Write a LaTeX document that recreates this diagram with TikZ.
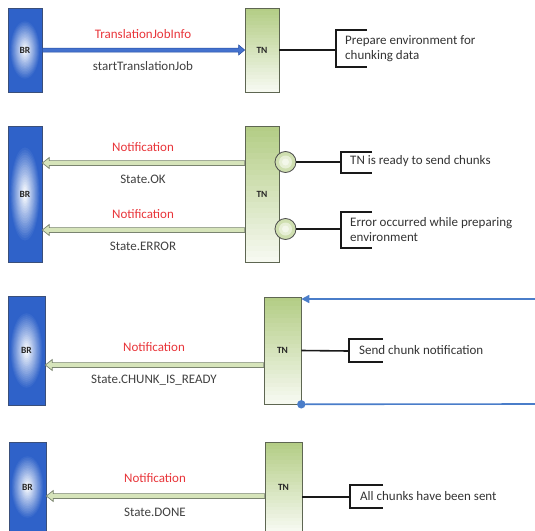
\documentclass[tikz,border=0pt]{standalone}
\usepackage{fontspec}
\setmainfont{Carlito}
\usetikzlibrary{calc,arrows.meta}
\definecolor{brblue}{HTML}{2F62C9}
\definecolor{brline}{HTML}{3A4F7A}
\definecolor{tngreen}{HTML}{B4CD86}
\definecolor{tnline}{HTML}{5E6652}
\definecolor{gfill}{HTML}{D6E4BA}
\definecolor{gline}{HTML}{7A8470}
\definecolor{lblred}{HTML}{E8353A}
\definecolor{lblgray}{HTML}{404040}
\definecolor{lineblue}{HTML}{4A7DC9}
% gradient helpers: centre x, centre y, width, height
\newcommand\brgrad[4]{%
  \fill[brblue] ({#1-#3/2},{#2-#4/2}) rectangle ({#1+#3/2},{#2+#4/2});
  \foreach \i [evaluate=\i as \pc using {int(\i*100/19)}] in {0,...,19}{
    \fill[white!\pc!brblue] (#1,#2) ellipse [x radius={0.9*#3/2*(1-\i/20)}, y radius={0.72*#4/2*(1-\i/20)}];
  }}
\newcommand\tngrad[4]{%
  \foreach \i [evaluate=\i as \pc using {int(\i*88/24)}] in {0,...,24}{
    \fill[white!\pc!tngreen] ({#1-#3/2},{#2-#4/2+#4*\i/25}) rectangle ({#1+#3/2},{#2-#4/2+#4*(\i+1)/25+0.6});
  }}
\begin{document}
\begin{tikzpicture}[x=1pt,y=-1pt,
  brbox/.style={draw=brline, line width=0.6pt, inner sep=0pt,
    font=\fontsize{9.5}{10}\selectfont\bfseries, text=black!85},
  tnbox/.style={draw=tnline, line width=0.6pt, inner sep=0pt,
    font=\fontsize{9.5}{10}\selectfont\bfseries, text=black!85},
  redlbl/.style={text=lblred, font=\fontsize{13}{15}\selectfont, inner sep=0pt},
  graylbl/.style={text=lblgray, font=\fontsize{13}{15}\selectfont, inner sep=0pt},
  note/.style={text=black!80, font=\fontsize{13}{15}\selectfont, anchor=west, inner sep=0pt, align=left},
  link/.style={draw=black!90, line width=1.6pt},
  brack/.style={draw=black!90, line width=1.6pt, line cap=butt},
  knob/.style={circle, draw=black!70, line width=0.8pt, fill=gfill!80!tngreen, minimum size=21pt, inner sep=0pt},
  garrow/.style={draw=gline, fill=gfill, line width=0.7pt,
    to path={let \p1=(\tikztostart), \p2=(\tikztotarget) in
      (\x1,\y1+2.4pt) -- (\x2+7pt,\y1+2.4pt) -- (\x2+7pt,\y1+5.5pt) -- (\x2,\y1) -- (\x2+7pt,\y1-5.5pt) -- (\x2+7pt,\y1-2.4pt) -- (\x1,\y1-2.4pt) -- cycle}},
  barrow/.style={draw=brblue!80!black, fill=brblue!90!white, line width=0.5pt,
    to path={let \p1=(\tikztostart), \p2=(\tikztotarget) in
      (\x1,\y1+2pt) -- (\x2-6pt,\y1+2pt) -- (\x2-6pt,\y1+5pt) -- (\x2,\y1) -- (\x2-6pt,\y1-5pt) -- (\x2-6pt,\y1-2pt) -- (\x1,\y1-2pt) -- cycle}},
  bline/.style={draw=lineblue, line width=1.6pt},
]
\clip (0,0) rectangle (535,530);

% ---------- section 1 ----------
\brgrad{25}{50}{34}{84}
\tngrad{262}{50}{34}{84}
\node[brbox, minimum width=34pt, minimum height=84pt] (BR1) at (25,50) {BR};
\node[tnbox, minimum width=34pt, minimum height=84pt] (TN1) at (262,50) {TN};
\path[barrow] (BR1.east) to (TN1.west);
\node[redlbl] (l1a) at (143,34) {TranslationJobInfo};
\node[graylbl] (l1b) at (143,66) {startTranslationJob};
\coordinate (k1) at (336,50);
\draw[link] (TN1.east) -- (k1);
\draw[brack] (367,30) -- (336,30) -- (336,67) -- (367,67);
\node[note] (n1) at (345,48.5) {Prepare environment for\\chunking data};

% ---------- section 2 ----------
\brgrad{25}{194}{34}{136}
\tngrad{262}{194}{34}{136}
\node[brbox, minimum width=34pt, minimum height=136pt] (BR2) at (25,194) {BR};
\node[tnbox, minimum width=34pt, minimum height=136pt] (TN2) at (262,194) {TN};
\path[garrow] (TN2.west |- 0,163) to (BR2.east |- 0,163);
\path[garrow] (TN2.west |- 0,230) to (BR2.east |- 0,230);
\node[redlbl] (l2a) at (143,147) {Notification};
\node[graylbl] (l2b) at (143,179) {State.OK};
\node[redlbl] (l2c) at (143,214) {Notification};
\node[graylbl] (l2d) at (143,246) {State.ERROR};
\coordinate (k2) at (341,162);
\coordinate (k3) at (341,229);
\node[knob] (c1) at (285.5,162) {};
\node[knob] (c2) at (285.5,229) {};
\fill[gfill!60!white] (c1) circle (6.5);
\fill[gfill!30!white] (c1) circle (3.5);
\fill[gfill!60!white] (c2) circle (6.5);
\fill[gfill!30!white] (c2) circle (3.5);
\draw[link] (c1.east) -- (k2);
\draw[link] (c2.east) -- (k3);
\draw[brack] (372,152) -- (341,152) -- (341,173) -- (372,173);
\draw[brack] (372,212) -- (341,212) -- (341,248) -- (372,248);
\node[note] (n2) at (350,161) {TN is ready to send chunks};
\node[note] (n3) at (350,229.5) {Error occurred while preparing\\environment};

% ---------- section 3 ----------
\brgrad{26.5}{350.5}{37}{109}
\tngrad{282.5}{350.5}{37}{107}
\node[brbox, minimum width=37pt, minimum height=109pt] (BR3) at (26.5,350.5) {BR};
\node[tnbox, minimum width=37pt, minimum height=107pt] (TN3) at (282.5,350.5) {TN};
\path[garrow] (TN3.west |- 0,365) to (BR3.east |- 0,365);
\node[redlbl] (l3a) at (154,347) {Notification};
\node[graylbl] (l3b) at (154,380) {State.CHUNK\_IS\_READY};
\coordinate (r1) at (536,299);
\coordinate (r2) at (536,404);
\draw[bline, -{Triangle[length=8pt,width=8pt]}] (r1) -- (TN3.east |- r1);
\draw[bline] (TN3.south east) -- (r2);
\fill[lineblue] (TN3.south east) circle (4.2);
\coordinate (k4) at (349,351);
\draw[link] (TN3.east) -- (k4);
\draw[brack] (383,339) -- (349,339) -- (349,362) -- (383,362);
\node[note] (n4) at (359,350) {Send chunk notification};

% ---------- section 4 ----------
\brgrad{27.5}{487}{37}{90}
\tngrad{283.5}{487}{37}{90}
\node[brbox, minimum width=37pt, minimum height=90pt] (BR4) at (27.5,487) {BR};
\node[tnbox, minimum width=37pt, minimum height=90pt] (TN4) at (283.5,487) {TN};
\path[garrow] (TN4.west |- 0,496) to (BR4.east |- 0,496);
\node[redlbl] (l4a) at (155,478) {Notification};
\node[graylbl] (l4b) at (155,512) {State.DONE};
\coordinate (k5) at (350,497);
\draw[link] (TN4.east |- k5) -- (k5);
\draw[brack] (383,485) -- (350,485) -- (350,508) -- (383,508);
\node[note] (n5) at (360,496) {All chunks have been sent};
\end{tikzpicture}
\end{document}
